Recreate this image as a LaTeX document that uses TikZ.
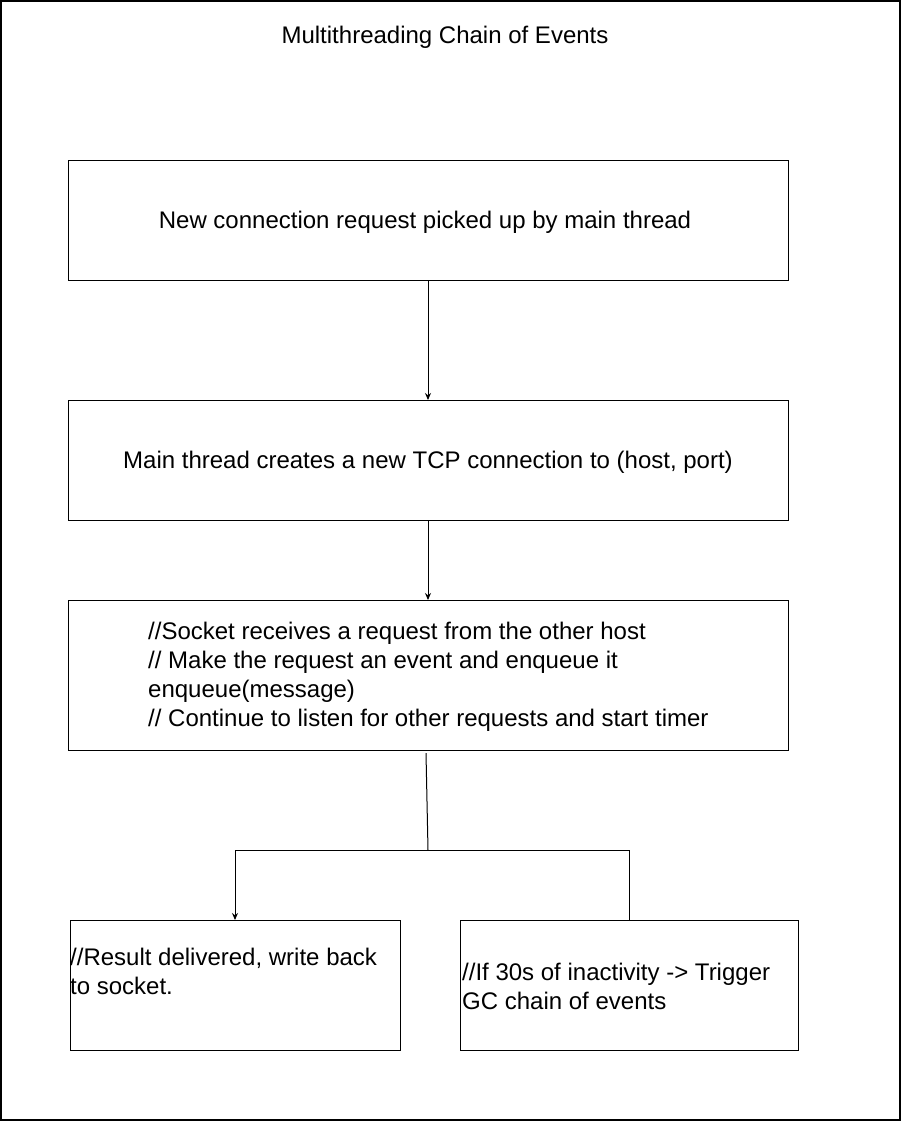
\documentclass[tikz,border=0pt]{standalone}
\usepackage{fontspec}
\setmainfont{Liberation Sans}
\usetikzlibrary{arrows.meta}
\begin{document}
\begin{tikzpicture}[x=1pt,y=-1pt,
  box/.style={draw=black,line width=1pt,minimum width=#1,inner sep=0pt,outer sep=0pt},
  ctxt/.style={inner sep=0pt,font=\fontsize{24}{29}\selectfont},
  txt/.style={align=left,inner sep=0pt,anchor=west,font=\fontsize{24}{29}\selectfont},
  arr/.style={line width=1pt,-{Stealth[length=7pt,width=6pt]}},
  ln/.style={line width=1pt}]
\useasboundingbox (0,0) rectangle (902,1122);
\draw[line width=2pt] (1,1) rectangle (900,1120);
\node[ctxt] (title) at (445,37) {Multithreading Chain of Events};
\node[box=720pt,minimum height=120pt] (b1) at (428,220) {};
\node[ctxt] (t1) at (425,222) {New connection request picked up by main thread};
\node[box=720pt,minimum height=120pt] (b2) at (428,460) {};
\node[ctxt] (t2) at (428,462) {Main thread creates a new TCP connection to (host, port)};
\node[box=720pt,minimum height=150pt] (b3) at (428,675) {};
\node[txt] (t3) at (148,677) {//Socket receives a request from the other host\\// Make the request an event and enqueue it\\enqueue(message)\\// Continue to listen for other requests and start timer};
\node[box=330pt,minimum height=130pt] (b4) at (235,985) {};
\node[txt] (t4) at (70,971) {//Result delivered, write back\\to socket.};
\node[box=338pt,minimum height=130pt] (b5) at (629,985) {};
\node[txt] (t5) at (462,986) {//If 30s of inactivity -> Trigger\\GC chain of events};
\draw[arr] (b1.south) -- (b2.north);
\draw[arr] (b2.south) -- (b3.north);
\coordinate (s) at (426,753);
\coordinate (j) at (428,850);
\draw[ln] (s) -- (j);
\draw[arr] (j) -| (b4.north);
\draw[ln] (j) -| (b5.north);
\end{tikzpicture}
\end{document}
